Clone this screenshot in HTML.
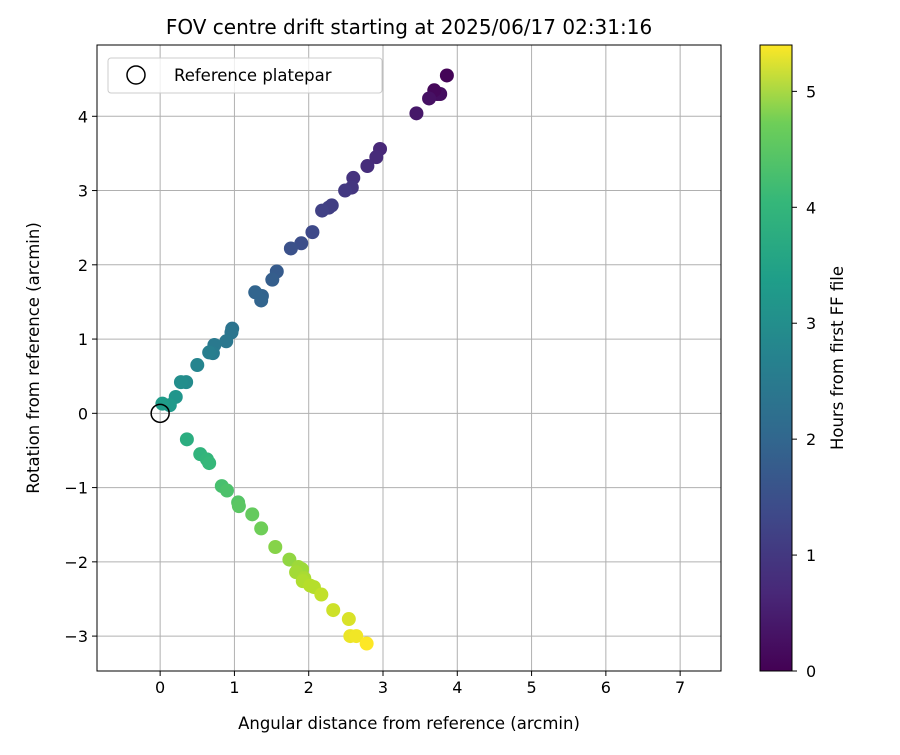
<!DOCTYPE html>
<html><head><meta charset="utf-8"><style>
body{margin:0;background:#fff;}
svg text{font-family:"DejaVu Sans","Liberation Sans",sans-serif;fill:#000;}
</style></head><body>
<svg id="chart" width="900" height="750" xmlns="http://www.w3.org/2000/svg">
<defs><linearGradient id="vir" x1="0" y1="1" x2="0" y2="0">
<stop offset="0" stop-color="#440154"/><stop offset="0.125" stop-color="#482878"/><stop offset="0.25" stop-color="#3e4989"/><stop offset="0.375" stop-color="#31688e"/><stop offset="0.5" stop-color="#26828e"/><stop offset="0.625" stop-color="#1f9e89"/><stop offset="0.75" stop-color="#35b779"/><stop offset="0.875" stop-color="#6ece58"/><stop offset="1" stop-color="#fde725"/></linearGradient></defs>
<text x="409" y="34" font-size="20" text-anchor="middle">FOV centre drift starting at 2025/06/17 02:31:16</text>
<g id="grid"></g><g id="pts"></g><g id="axes"></g>
<text x="409" y="729" font-size="16.5" text-anchor="middle">Angular distance from reference (arcmin)</text>
<text transform="translate(39,358) rotate(-90)" font-size="16.5" text-anchor="middle">Rotation from reference (arcmin)</text>
<g>
<rect x="108" y="58" width="274" height="35" rx="3" fill="#fff" fill-opacity="0.8" stroke="#ccc"/>
<circle cx="136" cy="75" r="9" fill="none" stroke="#000" stroke-width="1.5"/>
<text x="174" y="81" font-size="16.5">Reference platepar</text></g>
<rect x="760" y="45" width="32" height="626" fill="url(#vir)" stroke="#000" stroke-width="1"/>
<g id="cbticks"></g>
<text transform="translate(843,358) rotate(-90)" font-size="16.5" text-anchor="middle">Hours from first FF file</text>
</svg>
<script>
const xs=[3.86,3.73,3.77,3.69,3.62,3.45,2.96,2.91,2.79,2.60,2.58,2.49,2.31,2.27,2.18,2.05,1.90,1.76,1.57,1.51,1.37,1.36,1.28,0.97,0.96,0.89,0.73,0.71,0.66,0.50,0.35,0.28,0.21,0.13,0.03,
0.36,0.54,0.63,0.66,0.83,0.90,1.05,1.06,1.24,1.36,1.55,1.74,1.86,1.91,1.83,1.94,1.92,2.02,2.07,2.17,2.33,2.54,2.56,2.64,2.78];
const ys=[4.55,4.30,4.30,4.35,4.24,4.04,3.56,3.45,3.33,3.17,3.04,3.00,2.80,2.77,2.73,2.44,2.29,2.22,1.91,1.80,1.58,1.52,1.63,1.14,1.09,0.97,0.92,0.81,0.82,0.65,0.42,0.42,0.22,0.11,0.13,
-0.35,-0.55,-0.62,-0.67,-0.98,-1.04,-1.20,-1.25,-1.36,-1.55,-1.80,-1.97,-2.07,-2.10,-2.14,-2.22,-2.26,-2.32,-2.34,-2.44,-2.65,-2.77,-3.00,-3.00,-3.10];
const hours=[0.05,0.15,0.2,0.1,0.25,0.35,0.6,0.65,0.7,0.8,0.85,0.9,1.0,1.0,1.05,1.2,1.3,1.35,1.55,1.6,1.7,1.75,1.75,2.05,2.1,2.15,2.2,2.25,2.3,2.45,2.6,2.65,2.8,2.9,2.95,
3.35,3.5,3.55,3.6,3.8,3.85,3.95,4.0,4.1,4.2,4.4,4.5,4.6,4.6,4.65,4.7,4.75,4.8,4.8,4.9,5.0,5.1,5.25,5.3,5.4];
const xTicks=[0,1,2,3,4,5,6,7];
const yTicks=[-3,-2,-1,0,1,2,3,4];
const cTicks=[0,1,2,3,4,5];
const L=97,R=721,T=45,B=671,xmin=-0.85,xmax=7.55,ymin=-3.47,ymax=4.96,cmax=5.4;
const X=v=>L+(v-xmin)/(xmax-xmin)*(R-L);
const Y=v=>B-(v-ymin)/(ymax-ymin)*(B-T);
const C=v=>B-v/cmax*(B-T);
const fmt=v=>String(v).replace('-','\u2212');
const vir=[[68,1,84],[72,40,120],[62,73,137],[49,104,142],[38,130,142],[31,158,137],[53,183,121],[110,206,88],[181,222,43],[253,231,37]];
function col(t){let f=Math.max(0,Math.min(1,t/cmax))*(vir.length-1);let i=Math.min(Math.floor(f),vir.length-2),u=f-i;
const c=vir[i].map((a,k)=>Math.round(a+(vir[i+1][k]-a)*u));return `rgb(${c})`;}
const NS="http://www.w3.org/2000/svg";
function mk(p,tag,a){const e=document.createElementNS(NS,tag);for(const k in a)e.setAttribute(k,a[k]);p.appendChild(e);return e;}
const g=document.getElementById('grid'),ax=document.getElementById('axes'),pg=document.getElementById('pts'),cb=document.getElementById('cbticks');
xTicks.forEach(v=>{const l=mk(g,'line',{x1:X(v),x2:X(v),y1:T,y2:B,stroke:'#b0b0b0','stroke-width':1});


mk(ax,'line',{x1:X(v),x2:X(v),y1:B,y2:B+5,stroke:'#000'});
const t=mk(ax,'text',{x:X(v),y:B+22,'font-size':16,'text-anchor':'middle'});t.textContent=fmt(v);

});
yTicks.forEach(v=>{const l=mk(g,'line',{x1:L,x2:R,y1:Y(v),y2:Y(v),stroke:'#b0b0b0','stroke-width':1});


mk(ax,'line',{x1:L-5,x2:L,y1:Y(v),y2:Y(v),stroke:'#000'});
const t=mk(ax,'text',{x:L-9,y:Y(v)+6,'font-size':16,'text-anchor':'end'});t.textContent=fmt(v);

});
const fr=mk(ax,'rect',{x:L,y:T,width:R-L,height:B-T,fill:'none',stroke:'#000','stroke-width':1});


xs.forEach((v,i)=>{const c=mk(pg,'circle',{cx:X(v),cy:Y(ys[i]),r:7,fill:col(hours[i])});

});
const ref=mk(pg,'circle',{cx:X(0),cy:Y(0),r:9,fill:'none',stroke:'#000','stroke-width':1.5});


cTicks.forEach(v=>{mk(cb,'line',{x1:792,x2:797,y1:C(v),y2:C(v),stroke:'#000'});
const t=mk(cb,'text',{x:806,y:C(v)+6,'font-size':16});t.textContent=v;

});
</script>
</body></html>
